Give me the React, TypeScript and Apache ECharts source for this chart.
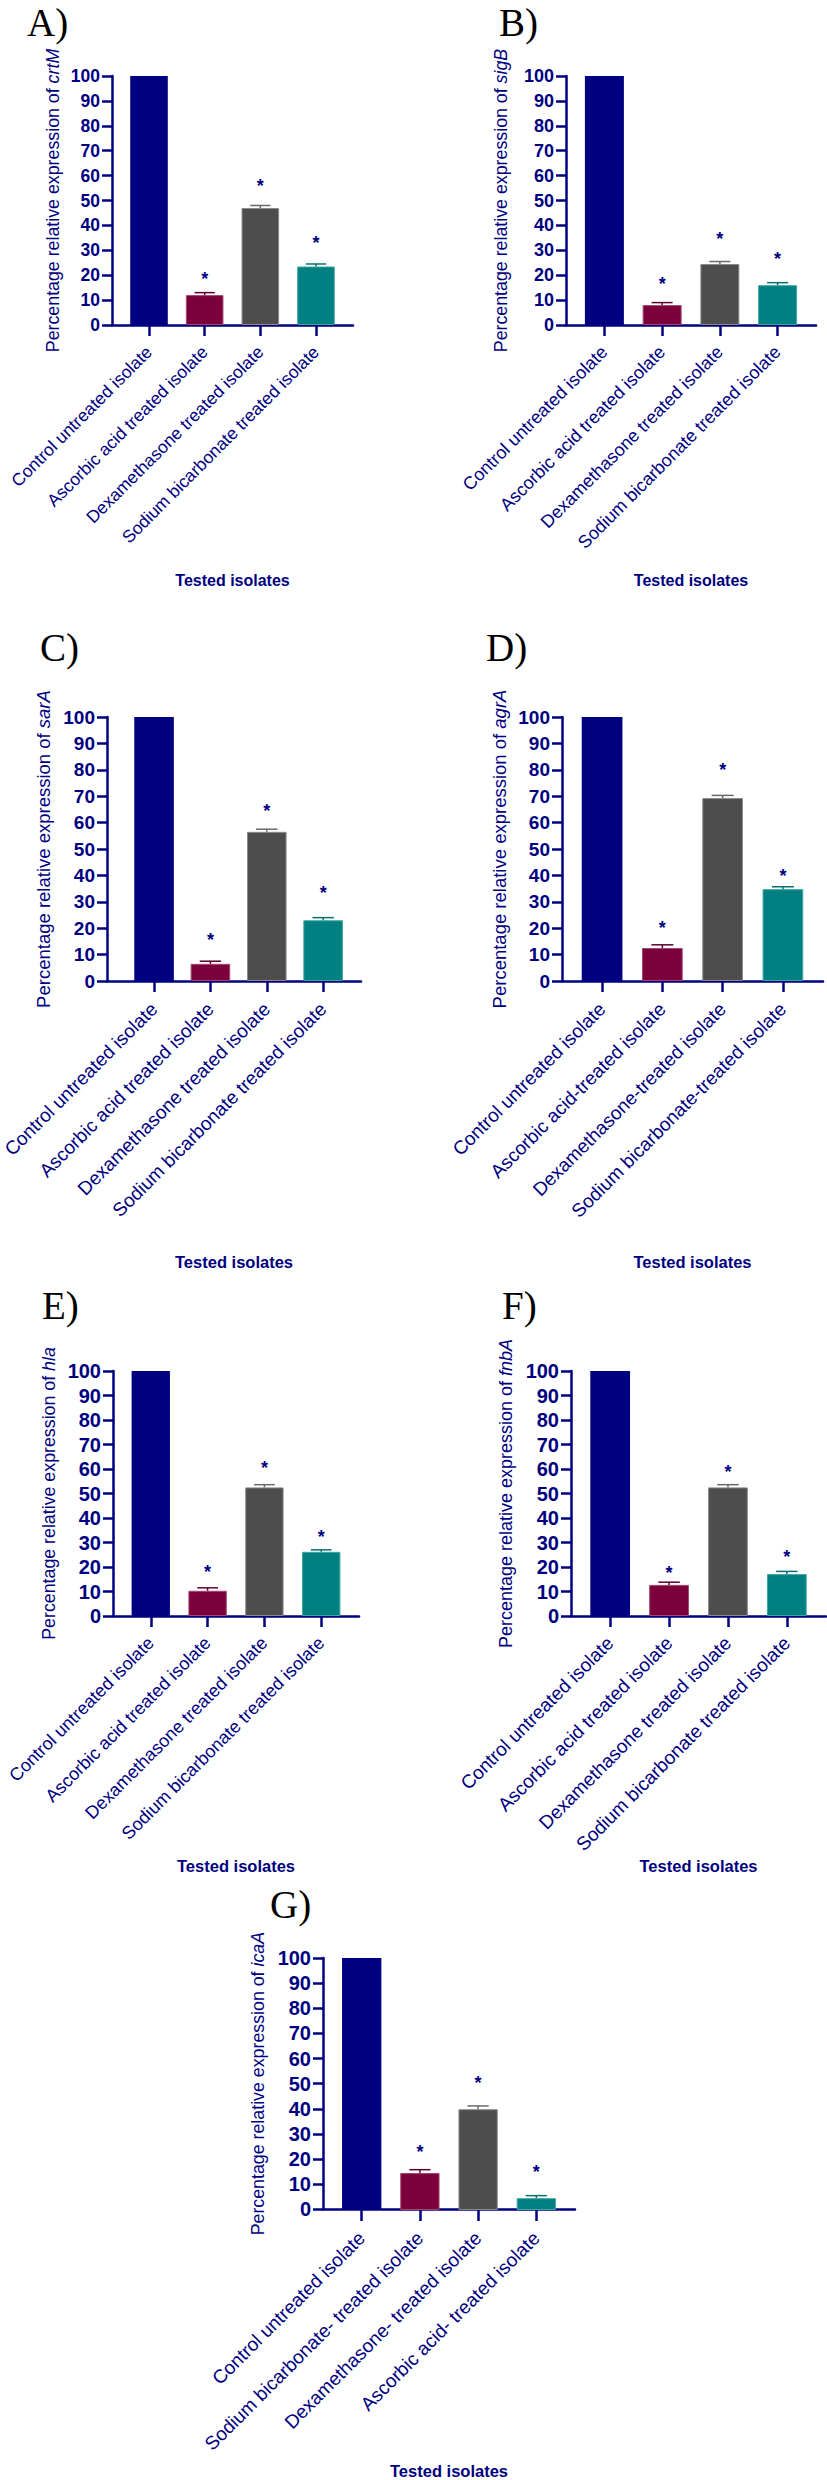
import React, { useEffect, useRef } from "react";
import * as echarts from "echarts";

// ---------- data ----------
const catsStd = [
  "Control untreated isolate",
  "Ascorbic acid treated isolate",
  "Dexamethasone treated isolate",
  "Sodium bicarbonate treated isolate",
];
const catsD = [
  "Control untreated isolate",
  "Ascorbic acid-treated isolate",
  "Dexamethasone-treated isolate",
  "Sodium bicarbonate-treated isolate",
];
const catsG = [
  "Control untreated isolate",
  "Sodium bicarbonate- treated isolate",
  "Dexamethasone- treated isolate",
  "Ascorbic acid- treated isolate",
];

const crtM = [100, 12, 47, 23.5];
const crtMErr = [0, 1, 1, 1];
const crtMStar = [0, 20.2, 57.5, 34.5];

const sigB = [100, 8, 24.5, 16];
const sigBErr = [0, 1, 1, 1];
const sigBStar = [0, 18, 36, 28];

const sarA = [100, 6.5, 56.5, 23];
const sarAErr = [0, 1, 1, 1];
const sarAStar = [0, 17, 66, 35];

const agrA = [100, 12.5, 69.3, 34.8];
const agrAErr = [0, 1.2, 1, 0.9];
const agrAStar = [0, 21.6, 81.5, 41.1];

const hla = [100, 10.3, 52.5, 26.2];
const hlaErr = [0, 1.2, 1.1, 0.8];
const hlaStar = [0, 19.5, 62, 33.7];

const fnbA = [100, 12.7, 52.5, 17.1];
const fnbAErr = [0, 1.1, 1.1, 1.1];
const fnbAStar = [0, 19.2, 60.6, 25.8];

const icaA = [100, 14.7, 40, 4.7];
const icaAErr = [0, 1.3, 1.3, 1];
const icaAStar = [0, 24.7, 52, 16.7];

const yTicks = [0, 10, 20, 30, 40, 50, 60, 70, 80, 90, 100];

const panels = [
  { label: "A)", gene: "crtM", cats: catsStd, values: crtM, errs: crtMErr, stars: crtMStar },
  { label: "B)", gene: "sigB", cats: catsStd, values: sigB, errs: sigBErr, stars: sigBStar },
  { label: "C)", gene: "sarA", cats: catsStd, values: sarA, errs: sarAErr, stars: sarAStar },
  { label: "D)", gene: "agrA", cats: catsD, values: agrA, errs: agrAErr, stars: agrAStar },
  { label: "E)", gene: "hla", cats: catsStd, values: hla, errs: hlaErr, stars: hlaStar },
  { label: "F)", gene: "fnbA", cats: catsStd, values: fnbA, errs: fnbAErr, stars: fnbAStar },
  { label: "G)", gene: "icaA", cats: catsG, values: icaA, errs: icaAErr, stars: icaAStar },
];

// ---------- styling / layout ----------
const NAVY = "#000080";
const barColors = ["#000080", "#7b003c", "#4d4d4d", "#008080"];
const barBorders = ["#000080", "#a3466f", "#8a8a8a", "#3fa5a5"];
const errColors = ["#000080", "#5a002c", "#6a6a6a", "#0b6f6f"];
const FONT = "'Liberation Sans', Arial, sans-serif";

const layouts = [
  { lx: 27, ly: 3, axisX: 112, xEnd: 353, top: 76, bottom: 325, tested: 580, nameGap: 50, fTick: 17.5, fCat: 17.5, fTitle: 17.8, fTested: 16, catMargin: 24 },
  { lx: 499, ly: 3, axisX: 566, xEnd: 816, top: 76, bottom: 325, tested: 580, nameGap: 56, fTick: 18, fCat: 18, fTitle: 17.8, fTested: 16, catMargin: 24 },
  { lx: 40, ly: 628, axisX: 107, xEnd: 361, top: 717, bottom: 981, tested: 1262, nameGap: 54, fTick: 19, fCat: 19, fTitle: 18.5, fTested: 16.5, catMargin: 25 },
  { lx: 486, ly: 628, axisX: 562, xEnd: 823, top: 717, bottom: 981, tested: 1262, nameGap: 53, fTick: 19, fCat: 19, fTitle: 18.5, fTested: 16.5, catMargin: 25 },
  { lx: 42, ly: 1286, axisX: 113, xEnd: 359, top: 1371, bottom: 1616, tested: 1866, nameGap: 55, fTick: 20, fCat: 18, fTitle: 17.8, fTested: 16.5, catMargin: 24 },
  { lx: 502, ly: 1286, axisX: 571, xEnd: 826, top: 1371, bottom: 1616, tested: 1866, nameGap: 56, fTick: 20, fCat: 19, fTitle: 18, fTested: 16.5, catMargin: 24 },
  { lx: 270, ly: 1885, axisX: 323, xEnd: 575, top: 1958, bottom: 2210, tested: 2471, nameGap: 56, fTick: 20, fCat: 19, fTitle: 17.8, fTested: 16.5, catMargin: 25 },
];

function buildOption() {
  const grid: any[] = [];
  const xAxis: any[] = [];
  const yAxis: any[] = [];
  const series: any[] = [];
  const graphic: any[] = [];

  panels.forEach((p, i) => {
    const L = layouts[i];
    const total = L.xEnd - L.axisX;
    const band = total / 4.33;
    const barW = band * 0.675;
    const gBar = grid.length;
    grid.push({
      left: L.axisX + (total - 4 * band) / 2,
      width: band * 4,
      top: L.top,
      height: L.bottom - L.top,
    });
    const gFrame = grid.length;
    grid.push({ left: L.axisX, width: total, top: L.top, height: L.bottom - L.top });

    xAxis.push({
      type: "category",
      gridIndex: gBar,
      data: p.cats,
      axisLine: { show: false },
      axisTick: { show: true, alignWithLabel: true, length: 11, lineStyle: { color: NAVY, width: 2.5 } },
      axisLabel: {
        interval: 0,
        rotate: 45,
        margin: L.catMargin,
        color: NAVY,
        fontSize: L.fCat,
        fontFamily: FONT,
      },
      splitLine: { show: false },
    });
    yAxis.push({ type: "value", gridIndex: gBar, min: 0, max: 100, show: false });

    xAxis.push({
      type: "value",
      gridIndex: gFrame,
      min: 0,
      max: 1,
      axisLine: { show: true, onZero: false, lineStyle: { color: NAVY, width: 2.5 } },
      axisTick: { show: false },
      axisLabel: { show: false },
      splitLine: { show: false },
      name: "Tested isolates",
      nameLocation: "middle",
      nameGap: L.tested - L.bottom - L.fTested / 2,
      nameTextStyle: { color: NAVY, fontSize: L.fTested, fontWeight: "bold", fontFamily: FONT },
    });
    yAxis.push({
      type: "value",
      gridIndex: gFrame,
      min: 0,
      max: 100,
      interval: 10,
      axisLine: { show: true, lineStyle: { color: NAVY, width: 2.5 } },
      axisTick: { show: true, length: 10, lineStyle: { color: NAVY, width: 2.5 } },
      axisLabel: {
        color: NAVY,
        fontSize: L.fTick,
        fontWeight: "bold",
        fontFamily: FONT,
        margin: 12,
        formatter: (v: number) => (yTicks.indexOf(v) >= 0 ? String(v) : ""),
      },
      splitLine: { show: false },
      name: "{n|Percentage relative expression of }{g|" + p.gene + "}",
      nameLocation: "middle",
      nameGap: L.nameGap,
      nameTextStyle: {
        rich: {
          n: { color: NAVY, fontSize: L.fTitle, fontFamily: FONT },
          g: { color: NAVY, fontSize: L.fTitle, fontFamily: FONT, fontStyle: "italic" },
        },
      },
    });

    series.push({
      type: "bar",
      xAxisIndex: gBar,
      yAxisIndex: gBar,
      barWidth: barW,
      data: p.values.map((v, k) => ({
        value: v,
        itemStyle: { color: barColors[k], borderColor: barBorders[k], borderWidth: k === 0 ? 0 : 1 },
      })),
      z: 2,
    });

    series.push({
      type: "custom",
      xAxisIndex: gBar,
      yAxisIndex: gBar,
      z: 3,
      data: p.values.map((v, k) => [k, v, p.errs[k], p.stars[k]]),
      renderItem: (params: any, api: any) => {
        const k = params.dataIndex;
        const x = api.value(0);
        const v = api.value(1);
        const e = api.value(2);
        const s = api.value(3);
        const children: any[] = [];
        const c = errColors[k];
        if (e > 0) {
          const pTop = api.coord([x, v]);
          const pErr = api.coord([x, v + e]);
          const cap = barW * 0.27;
          children.push({
            type: "line",
            shape: { x1: pTop[0], y1: pTop[1], x2: pErr[0], y2: pErr[1] },
            style: { stroke: c, lineWidth: 1.5 },
          });
          children.push({
            type: "line",
            shape: { x1: pErr[0] - cap, y1: pErr[1], x2: pErr[0] + cap, y2: pErr[1] },
            style: { stroke: c, lineWidth: 1.5 },
          });
        }
        if (s > 0) {
          const ps = api.coord([x, s]);
          children.push({
            type: "text",
            x: ps[0],
            y: ps[1] + 4,
            style: {
              text: "*",
              fill: NAVY,
              font: "bold 18px " + FONT,
              textAlign: "center",
              textVerticalAlign: "middle",
            },
          });
        }
        return { type: "group", children };
      },
    });

    graphic.push({
      type: "text",
      left: L.lx,
      top: L.ly,
      style: {
        text: p.label,
        fill: "#000",
        font: "39px 'Liberation Serif', 'Times New Roman', serif",
      },
    });
  });

  return {
    animation: false,
    backgroundColor: "#ffffff",
    grid,
    xAxis,
    yAxis,
    series,
    graphic,
  };
}

export default function App() {
  const ref = useRef<HTMLDivElement>(null);
  useEffect(() => {
    if (!ref.current) return;
    const chart = echarts.init(ref.current, undefined, { renderer: "svg" });
    chart.setOption(buildOption() as any);
    return () => chart.dispose();
  }, []);
  return (
    <div
      ref={ref}
      style={{ position: "absolute", left: 0, top: 0, width: 827, height: 2480, background: "#fff" }}
    />
  );
}
